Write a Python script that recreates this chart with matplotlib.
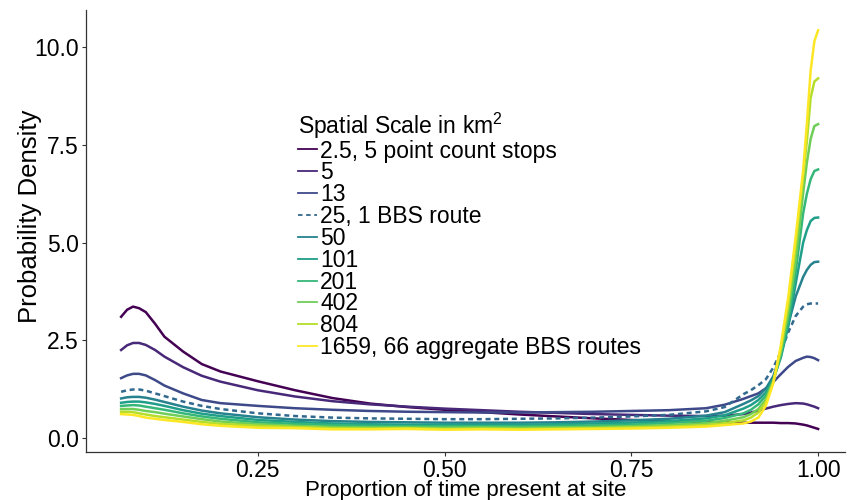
import matplotlib.pyplot as plt
from matplotlib import cm
from matplotlib.lines import Line2D

plt.rcParams['font.family'] = ['Liberation Sans', 'DejaVu Sans']
plt.rcParams['mathtext.fontset'] = 'custom'
plt.rcParams['mathtext.rm'] = 'Liberation Sans'

# proportion of time present at site (common grid for all curves)
x = [0.067, 0.075, 0.083, 0.091, 0.10, 0.1125, 0.125, 0.15, 0.175, 0.20, 0.25,
     0.30, 0.35, 0.40, 0.45, 0.50, 0.55, 0.60, 0.65, 0.70, 0.75, 0.80, 0.85,
     0.875, 0.90, 0.91, 0.92, 0.93, 0.94, 0.95, 0.96, 0.97, 0.98, 0.985, 0.99,
     0.995, 1.00]

s2_5 = [3.10, 3.28, 3.36, 3.32, 3.22, 2.92, 2.59, 2.21, 1.89, 1.70, 1.45,
        1.22, 1.02, 0.88, 0.79, 0.72, 0.66, 0.60, 0.55, 0.50, 0.46, 0.43, 0.41,
        0.40, 0.39, 0.39, 0.39, 0.39, 0.39, 0.38, 0.38, 0.37, 0.34, 0.32, 0.29,
        0.26, 0.23]
s5 = [2.25, 2.37, 2.43, 2.43, 2.38, 2.25, 2.08, 1.81, 1.59, 1.44, 1.22,
      1.06, 0.94, 0.86, 0.80, 0.75, 0.71, 0.67, 0.64, 0.61, 0.59, 0.57, 0.56,
      0.57, 0.61, 0.65, 0.70, 0.75, 0.80, 0.84, 0.87, 0.89, 0.88, 0.86, 0.83,
      0.80, 0.76]
s13 = [1.53, 1.60, 1.64, 1.64, 1.60, 1.48, 1.34, 1.14, 0.97, 0.89, 0.82,
       0.76, 0.72, 0.69, 0.67, 0.66, 0.65, 0.65, 0.66, 0.67, 0.69, 0.71, 0.76,
       0.85, 1.00, 1.07, 1.14, 1.27, 1.43, 1.63, 1.82, 1.97, 2.05, 2.08, 2.07,
       2.04, 1.99]
s25 = [1.18, 1.22, 1.24, 1.24, 1.21, 1.14, 1.07, 0.93, 0.82, 0.74, 0.63,
       0.56, 0.52, 0.50, 0.49, 0.48, 0.48, 0.49, 0.50, 0.52, 0.55, 0.59, 0.68,
       0.79, 1.12, 1.22, 1.35, 1.50, 1.80, 2.20, 2.70, 3.12, 3.36, 3.42, 3.44,
       3.44, 3.44]
s50 = [1.01, 1.04, 1.05, 1.05, 1.03, 0.98, 0.92, 0.80, 0.70, 0.63, 0.53,
       0.47, 0.43, 0.41, 0.40, 0.39, 0.39, 0.39, 0.40, 0.42, 0.45, 0.49, 0.57,
       0.66, 0.87, 0.96, 1.07, 1.26, 1.58, 2.15, 2.90, 3.62, 4.12, 4.30, 4.43,
       4.50, 4.51]
s101 = [0.90, 0.92, 0.93, 0.93, 0.91, 0.87, 0.82, 0.71, 0.62, 0.56, 0.46,
        0.41, 0.37, 0.35, 0.34, 0.34, 0.34, 0.34, 0.35, 0.37, 0.39, 0.43, 0.50,
        0.58, 0.75, 0.84, 0.97, 1.16, 1.50, 2.05, 2.85, 3.95, 5.00, 5.32, 5.55,
        5.63, 5.64]
s201 = [0.82, 0.83, 0.84, 0.83, 0.80, 0.76, 0.72, 0.63, 0.55, 0.49, 0.40,
        0.36, 0.33, 0.31, 0.30, 0.30, 0.30, 0.30, 0.31, 0.32, 0.34, 0.38, 0.44,
        0.51, 0.63, 0.72, 0.86, 1.08, 1.47, 2.10, 3.00, 4.25, 5.75, 6.25, 6.62,
        6.83, 6.87]
s402 = [0.74, 0.74, 0.74, 0.72, 0.69, 0.66, 0.62, 0.55, 0.48, 0.42, 0.35,
        0.31, 0.28, 0.27, 0.27, 0.26, 0.27, 0.26, 0.27, 0.28, 0.30, 0.33, 0.38,
        0.44, 0.53, 0.61, 0.74, 0.98, 1.45, 2.20, 3.20, 4.55, 6.26, 7.05, 7.65,
        7.98, 8.03]
s804 = [0.67, 0.67, 0.66, 0.63, 0.60, 0.56, 0.53, 0.47, 0.41, 0.36, 0.31,
        0.28, 0.25, 0.24, 0.25, 0.23, 0.24, 0.23, 0.24, 0.25, 0.27, 0.29, 0.33,
        0.38, 0.45, 0.52, 0.65, 0.92, 1.42, 2.28, 3.40, 4.95, 6.70, 7.60, 8.70,
        9.12, 9.20]
s1659 = [0.61, 0.60, 0.59, 0.56, 0.52, 0.49, 0.46, 0.41, 0.35, 0.31, 0.26,
         0.25, 0.22, 0.22, 0.23, 0.21, 0.22, 0.21, 0.22, 0.23, 0.24, 0.26, 0.29,
         0.33, 0.37, 0.42, 0.52, 0.82, 1.40, 2.35, 3.60, 5.15, 6.85, 8.05, 9.40,
         10.15, 10.43]

series = [s2_5, s5, s13, s25, s50, s101, s201, s402, s804, s1659]
labels = ['2.5, 5 point count stops', '5', '13', '25, 1 BBS route', '50', '101',
          '201', '402', '804', '1659, 66 aggregate BBS routes']

colors = [cm.viridis(i / 9) for i in range(10)]

fig = plt.figure(figsize=(8.48, 5), dpi=100)
ax = fig.add_axes([86 / 848, 48 / 500, (845 - 86) / 848, (452 - 10) / 500])

handles = []
for i, ys in enumerate(series):
    ls = (0, (2, 1.5)) if i == 3 else '-'
    ax.plot(x, ys, color=colors[i], lw=1.8, ls=ls)
    handles.append(Line2D([], [], color=colors[i], lw=1.3,
                          ls=(0, (2.5, 2)) if i == 3 else '-'))

ax.set_xlim(0.02, 1.036)
ax.set_ylim(-0.36, 10.95)
ax.set_xticks([0.25, 0.50, 0.75, 1.00])
ax.set_xticklabels(['0.25', '0.50', '0.75', '1.00'])
ax.set_yticks([0.0, 2.5, 5.0, 7.5, 10.0])
ax.set_yticklabels(['0.0', '2.5', '5.0', '7.5', '10.0'])

for sp in ['top', 'right']:
    ax.spines[sp].set_visible(False)
for sp in ['left', 'bottom']:
    ax.spines[sp].set_color('#333333')
    ax.spines[sp].set_linewidth(0.9)
ax.tick_params(colors='#333333', length=3, width=0.8, labelsize=16.5,
               labelcolor='black', pad=2)

ax.set_xlabel('Proportion of time present at site', fontsize=16, va='center')
ax.xaxis.set_label_coords(0.5, (452 - 490.5) / 442)
ax.set_ylabel('Probability Density', fontsize=18.5, va='center', ha='center')
ax.yaxis.set_label_coords((30 - 86) / 759, (452 - 216) / 442)

leg = fig.legend(handles, labels, title='Spatial Scale in km$^2$',
                 loc='upper left', bbox_to_anchor=(287 / 848, 1 - 99 / 500),
                 frameon=False, fontsize=16.5, title_fontsize=16.5,
                 handlelength=0.8, handletextpad=0.15, labelspacing=-0.05,
                 borderpad=0, alignment='left')

fig.savefig('out.png', dpi=100)
